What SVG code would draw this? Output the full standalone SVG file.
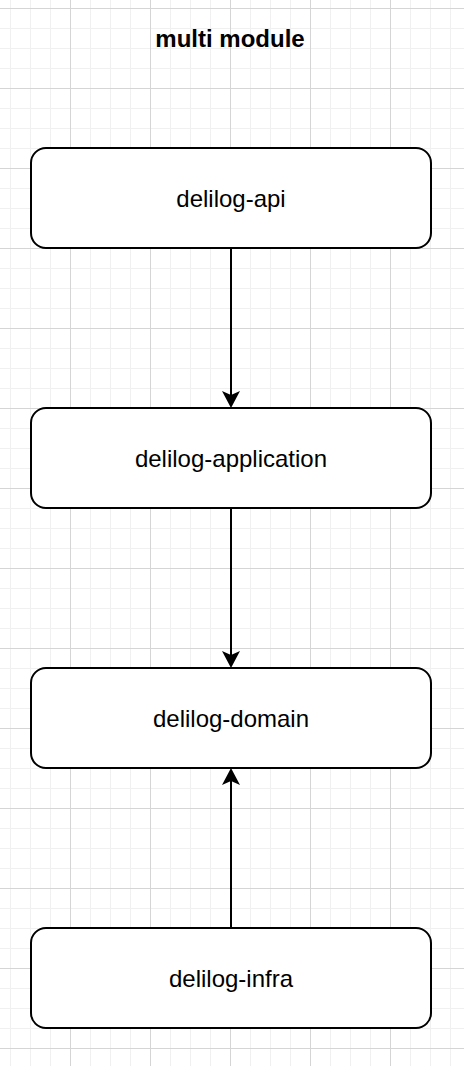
<svg xmlns="http://www.w3.org/2000/svg" width="464" height="1066" viewBox="0 0 464 1066">
<style>
.bg{fill:#ffffff}
.minor{stroke:#f0f0f0;stroke-width:1;fill:none}
.major{stroke:#d5d5d5;stroke-width:1;fill:none}
.node rect{fill:#ffffff;stroke:#000000;stroke-width:2}
.label{font-family:"Liberation Sans",Arial,Helvetica,sans-serif;font-size:24px;fill:#000000;text-anchor:middle}
.title{font-family:"Liberation Sans",Arial,Helvetica,sans-serif;font-size:24px;font-weight:bold;fill:#000000;text-anchor:middle}
.edge{stroke:#000000;stroke-width:2;fill:none}
</style>
<defs>
<marker id="arrow" markerUnits="userSpaceOnUse" viewBox="0 0 18 18" refX="4" refY="9" markerWidth="18" markerHeight="18" orient="auto">
<path d="M0,0 L17,9 L0,18 L4,9 Z" fill="#000000"/>
</marker>
</defs>
<rect class="bg" x="0" y="0" width="464" height="1066"/>
<g id="grid">
<path class="minor" d="M10.5,0V1066M30.5,0V1066M50.5,0V1066M90.5,0V1066M110.5,0V1066M130.5,0V1066M170.5,0V1066M190.5,0V1066M210.5,0V1066M250.5,0V1066M270.5,0V1066M290.5,0V1066M330.5,0V1066M350.5,0V1066M370.5,0V1066M410.5,0V1066M430.5,0V1066M450.5,0V1066"/>
<path class="minor" d="M0,28.5H464M0,48.5H464M0,68.5H464M0,108.5H464M0,128.5H464M0,148.5H464M0,188.5H464M0,208.5H464M0,228.5H464M0,268.5H464M0,288.5H464M0,308.5H464M0,348.5H464M0,368.5H464M0,388.5H464M0,428.5H464M0,448.5H464M0,468.5H464M0,508.5H464M0,528.5H464M0,548.5H464M0,588.5H464M0,608.5H464M0,628.5H464M0,668.5H464M0,688.5H464M0,708.5H464M0,748.5H464M0,768.5H464M0,788.5H464M0,828.5H464M0,848.5H464M0,868.5H464M0,908.5H464M0,928.5H464M0,948.5H464M0,988.5H464M0,1008.5H464M0,1028.5H464"/>
<path class="major" d="M70.5,0V1066M150.5,0V1066M230.5,0V1066M310.5,0V1066M390.5,0V1066"/>
<path class="major" d="M0,8.5H464M0,88.5H464M0,168.5H464M0,248.5H464M0,328.5H464M0,408.5H464M0,488.5H464M0,568.5H464M0,648.5H464M0,728.5H464M0,808.5H464M0,888.5H464M0,968.5H464M0,1048.5H464"/>
</g>
<text id="title" class="title" x="230" y="47">multi module</text>
<g id="edges">
<path class="edge" d="M231,248V395" marker-end="url(#arrow)"/>
<path class="edge" d="M231,508V655" marker-end="url(#arrow)"/>
<path class="edge" d="M231,928V781" marker-end="url(#arrow)"/>
</g>
<g id="node-api" class="node">
<rect x="31" y="148" width="400" height="100" rx="15" ry="15"/>
<text class="label" x="231" y="206.5">delilog-api</text>
</g>
<g id="node-application" class="node">
<rect x="31" y="408" width="400" height="100" rx="15" ry="15"/>
<text class="label" x="231" y="466.5">delilog-application</text>
</g>
<g id="node-domain" class="node">
<rect x="31" y="668" width="400" height="100" rx="15" ry="15"/>
<text class="label" x="231" y="726.5">delilog-domain</text>
</g>
<g id="node-infra" class="node">
<rect x="31" y="928" width="400" height="100" rx="15" ry="15"/>
<text class="label" x="231" y="986.5">delilog-infra</text>
</g>
</svg>
